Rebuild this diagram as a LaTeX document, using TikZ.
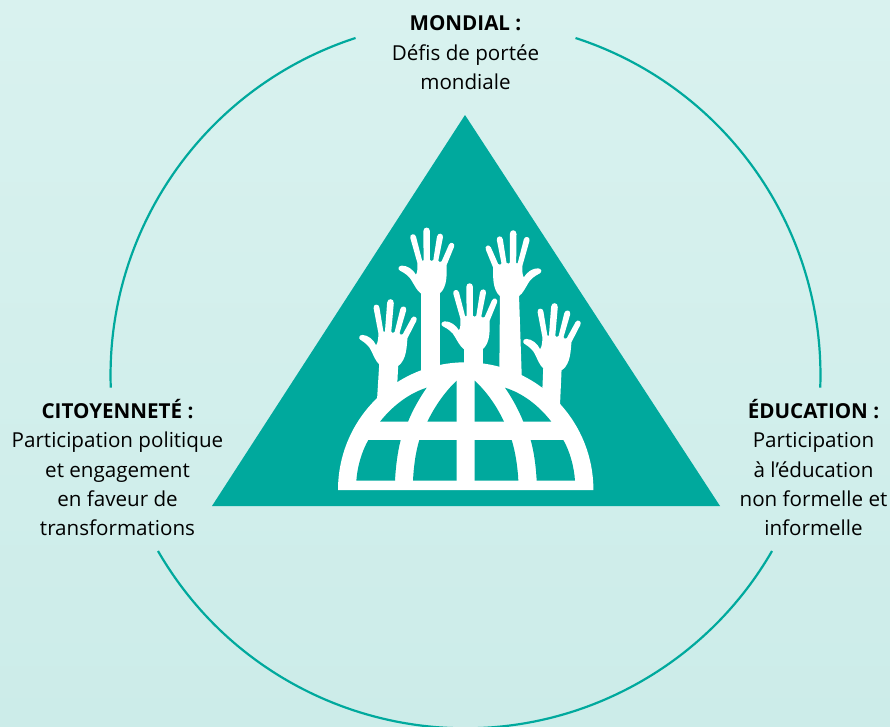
\documentclass[tikz,border=0pt]{standalone}
\usepackage{fontspec}
\setmainfont{Open Sans}
\definecolor{teal}{HTML}{00A99D}
\definecolor{bgtop}{HTML}{D9F2EF}
\definecolor{bgbot}{HTML}{CCECE9}
\newcommand{\handshape}{%
  (-29,0) .. controls (-40,-8) and (-48,-25) .. (-56,-38)
  .. controls (-62,-50) and (-75,-60) .. (-91,-68)
  .. controls (-99,-72) and (-96,-82) .. (-86,-83)
  .. controls (-70,-84) and (-52,-72) .. (-43,-56)
  .. controls (-38,-62) and (-38,-80) .. (-39,-92)
  -- (-60,-166) .. controls (-63,-179) and (-45,-181) .. (-43,-170)
  -- (-25,-100) .. controls (-24,-96) and (-20,-96) .. (-20,-100)
  -- (-21,-186) .. controls (-21,-201) and (-1,-201) .. (-1,-186)
  -- (-1,-100) .. controls (-1,-96) and (8,-96) .. (9,-100)
  -- (20,-170) .. controls (22,-183) and (40,-181) .. (38,-168)
  -- (24,-98) .. controls (24,-94) and (32,-92) .. (34,-96)
  -- (56,-146) .. controls (61,-157) and (76,-150) .. (71,-139)
  -- (49,-85) .. controls (49,-60) and (52,-20) .. (29,0) -- cycle}
\tikzset{
  wlab/.style={align=center,font=\fontsize{20.6}{29.4}\selectfont,text=black,inner sep=0pt},
  ringarc/.style={draw=teal,line width=2.2pt}
}
\begin{document}
\begin{tikzpicture}[x=1pt,y=-1pt]
\useasboundingbox (0,0) rectangle (890,726);
\shade[top color=bgtop,bottom color=bgbot] (0,0) rectangle (890,726);
% ring (y axis points down: angles run clockwise)
\begin{scope}
\clip (0,0) rectangle (890,726);
\draw[ringarc] (355.5,38) arc[start angle=252,end angle=178,radius=354.5];
\draw[ringarc] (575.5,38) arc[start angle=288,end angle=362,radius=354.5];
\draw[ringarc] (158,551) arc[start angle=150,end angle=30,radius=354.5];
\end{scope}
% triangle
\fill[teal] (465,115) -- (720,506) -- (212,506) -- cycle;
% arms
\fill[white] (420.7,293) rectangle (440,372);
\fill[white] (500,295) -- (519,295) -- (521.7,375) -- (499.3,375) -- cycle;
\fill[white] (464,348) rectangle (483,372);
\fill[white] (379.3,363) -- (398.3,363) -- (396.5,400) -- (377,400) -- cycle;
\fill[white] (543.3,367) -- (561.7,367) -- (560,405) -- (541.7,405) -- cycle;
% hands
\begin{scope}[shift={(430.3,293.3)},scale=1/3] \fill[white] \handshape; \end{scope}
\begin{scope}[shift={(509.5,296)},xscale=-1/3,yscale=1/3] \fill[white] \handshape; \end{scope}
\begin{scope}[shift={(473.3,349)},scale=1/3] \fill[white] \handshape; \end{scope}
\begin{scope}[shift={(388.7,365)},rotate=-5,scale=1/3] \fill[white] \handshape; \end{scope}
\begin{scope}[shift={(552.7,369)},rotate=-5,scale=1/3] \fill[white] \handshape; \end{scope}
% globe
\fill[white] (338,490) arc[start angle=180,end angle=360,radius=127.7] -- cycle;
\begin{scope}[shift={(330,220)},scale=1/3]
\fill[teal] (115,660) -- (212,660) .. controls (203,695) and (197,740) .. (195,782) -- (79,782) .. controls (82,740) and (95,695) .. (115,660) -- cycle;
\fill[teal] (268,660) -- (380,660) -- (380,782) -- (249,782) .. controls (251,740) and (257,695) .. (268,660) -- cycle;
\fill[teal] (434,660) -- (545,660) .. controls (556,695) and (563,740) .. (565,782) -- (434,782) -- cycle;
\fill[teal] (602,660) -- (700,660) .. controls (720,695) and (732,740) .. (735,782) -- (620,782) .. controls (618,740) and (612,695) .. (602,660) -- cycle;
\fill[teal] (150,605) -- (234,605) .. controls (248,570) and (268,535) .. (290,503) .. controls (238,520) and (190,555) .. (150,605) -- cycle;
\fill[teal] (292,605) -- (380,605) -- (380,482) .. controls (345,515) and (315,558) .. (292,605) -- cycle;
\fill[teal] (434,605) -- (522,605) .. controls (500,558) and (470,515) .. (434,482) -- cycle;
\fill[teal] (580,605) -- (664,605) .. controls (625,555) and (578,520) .. (525,503) .. controls (547,535) and (566,570) .. (580,605) -- cycle;
\end{scope}
% labels
\node[wlab] (mondial) at (465.5,53) {\textbf{MONDIAL :}\\Défis de portée\\mondiale};
\node[wlab] (citoyen) at (117.5,467.5) {\textbf{CITOYENNETÉ :}\\Participation politique\\et engagement\\en faveur de\\transformations};
\node[wlab] (educ) at (813.5,467.5) {\textbf{ÉDUCATION :}\\Participation\\à l’éducation\\non formelle et\\informelle};
\end{tikzpicture}
\end{document}
